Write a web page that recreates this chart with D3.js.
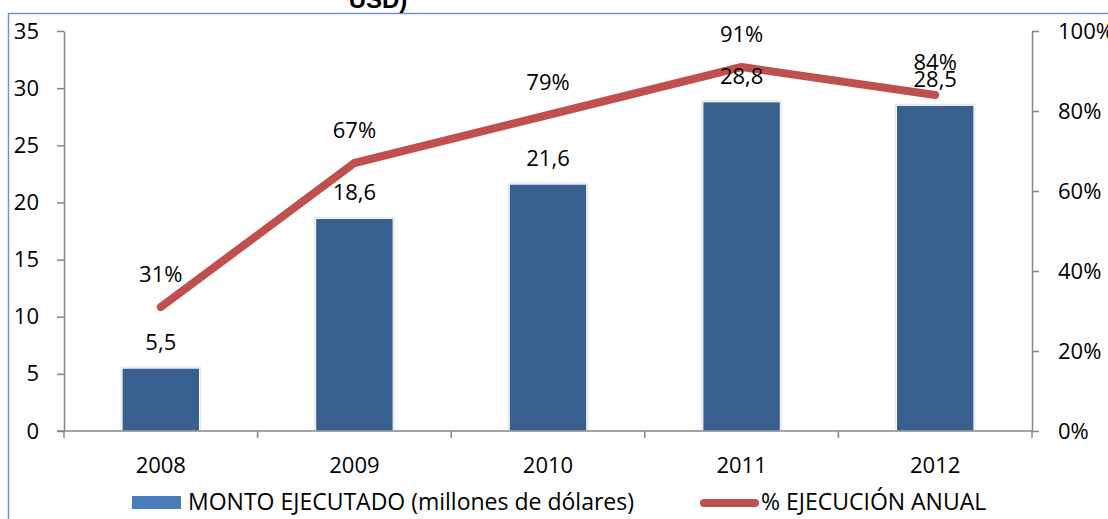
<!DOCTYPE html>
<html>
<head><meta charset="utf-8">
<style>
  body { margin: 0; background: #fff; }
  text { font-family: "Open Sans", Lato, sans-serif; fill: #000; }
  .axis path, .axis line { stroke: #868686; stroke-width: 1.5; }
</style>
</head>
<body>
<script src="https://d3js.org/d3.v7.min.js"></script>
<script>
var years = ["2008", "2009", "2010", "2011", "2012"];
var monto = [5.5, 18.6, 21.6, 28.8, 28.5];
var montoLabels = ["5,5", "18,6", "21,6", "28,8", "28,5"];
var ejecucion = [0.31, 0.67, 0.79, 0.91, 0.84];
var leftTicks = [0, 5, 10, 15, 20, 25, 30, 35];
var rightTicks = [0, 0.2, 0.4, 0.6, 0.8, 1];

var width = 1108, height = 519;
var margin = {left: 64, right: 76, top: 31, bottom: 88};
var fs = "22px";

var svg = d3.select("body").append("svg")
    .attr("width", width)
    .attr("height", height);

// chart area frame (cut off at the right)
svg.append("path")
    .attr("d", "M8.5," + height + "V13.5H" + width)
    .attr("fill", "none")
    .attr("stroke", "#6f94c6")
    .attr("stroke-width", 1.5);

svg.append("text")
    .attr("x", 378).attr("y", 8)
    .attr("text-anchor", "middle")
    .style("font-weight", "bold")
    .style("font-size", "24px")
    .style("font-family", "'Liberation Sans', Arial, sans-serif")
    .text("USD)");

var x = d3.scaleBand()
    .domain(years)
    .range([margin.left, width - margin.right])
    .paddingInner(0.6)
    .paddingOuter(0.3);

var y = d3.scaleLinear()
    .domain([0, 35])
    .range([height - margin.bottom, margin.top]);

var y2 = d3.scaleLinear()
    .domain([0, 1])
    .range([height - margin.bottom, margin.top]);

var band = d3.scaleBand().domain(years).range([margin.left, width - margin.right]);

// bars
svg.append("g").selectAll("rect.shadow")
    .data(monto)
    .enter().append("rect")
    .attr("x", (d, i) => x(years[i]) - 1.5)
    .attr("y", d => y(d) - 1.5)
    .attr("width", x.bandwidth() + 3)
    .attr("height", d => y(0) - y(d) + 1.5)
    .attr("fill", "#e4e4e4");

svg.append("g").selectAll("rect.bar")
    .data(monto)
    .enter().append("rect")
    .attr("x", (d, i) => x(years[i]))
    .attr("y", d => y(d))
    .attr("width", x.bandwidth())
    .attr("height", d => y(0) - y(d))
    .attr("fill", "#37608f")
    .attr("stroke", "#fff")
    .attr("stroke-width", 1);

// axes
var gl = svg.append("g").attr("class", "axis")
    .attr("transform", "translate(" + margin.left + ",0)")
    .call(d3.axisLeft(y).tickValues(leftTicks).tickSize(7).tickSizeOuter(0).tickFormat(d3.format("d")));
gl.selectAll("text").style("font-size", fs).attr("x", -25);

var gr = svg.append("g").attr("class", "axis")
    .attr("transform", "translate(" + (width - margin.right) + ",0)")
    .call(d3.axisRight(y2).tickValues(rightTicks).tickSize(7).tickSizeOuter(0).tickFormat(d3.format(".0%")));
gr.selectAll("text").style("font-size", fs).attr("x", 26);

var gx = svg.append("g").attr("class", "axis")
    .attr("transform", "translate(0," + y(0) + ")");
gx.append("line")
    .attr("x1", margin.left - 7).attr("x2", width - margin.right)
    .attr("stroke", "#868686").attr("stroke-width", 1.5);
gx.selectAll("line.tick")
    .data(years.concat(["end"]))
    .enter().append("line")
    .attr("x1", (d, i) => i < years.length ? band(d) : band(years[years.length - 1]) + band.bandwidth())
    .attr("x2", (d, i) => i < years.length ? band(d) : band(years[years.length - 1]) + band.bandwidth())
    .attr("y1", 0).attr("y2", 7)
    .attr("stroke", "#868686").attr("stroke-width", 1.5);
gx.selectAll("text")
    .data(years)
    .enter().append("text")
    .attr("x", d => band(d) + band.bandwidth() / 2)
    .attr("y", 42)
    .attr("text-anchor", "middle")
    .style("font-size", fs)
    .text(d => d);

// line
var cx = d => band(d) + band.bandwidth() / 2;
var line = d3.line()
    .x((d, i) => cx(years[i]))
    .y(d => y2(d));

svg.append("path")
    .datum(ejecucion)
    .attr("d", line)
    .attr("fill", "none")
    .attr("stroke", "#c0504d")
    .attr("stroke-width", 8)
    .attr("stroke-linecap", "round")
    .attr("stroke-linejoin", "round");

// bar labels
svg.append("g").selectAll("text")
    .data(monto)
    .enter().append("text")
    .attr("x", (d, i) => cx(years[i]))
    .attr("y", d => y(d) - 18)
    .attr("text-anchor", "middle")
    .style("font-size", fs)
    .text((d, i) => montoLabels[i]);

// percent labels
svg.append("g").selectAll("text")
    .data(ejecucion)
    .enter().append("text")
    .attr("x", (d, i) => cx(years[i]))
    .attr("y", d => y2(d) - 25)
    .attr("text-anchor", "middle")
    .style("font-size", fs)
    .text(d => Math.round(d * 100) + "%");

// legend
var lg = svg.append("g");
lg.append("rect")
    .attr("x", 132).attr("y", 496)
    .attr("width", 49).attr("height", 13)
    .attr("fill", "#4a7ebb");
lg.append("text")
    .attr("x", 188).attr("y", 510)
    .style("font-size", "23px")
    .text("MONTO EJECUTADO (millones de dólares)");
lg.append("line")
    .attr("x1", 704).attr("x2", 755)
    .attr("y1", 503).attr("y2", 503)
    .attr("stroke", "#c0504d")
    .attr("stroke-width", 8)
    .attr("stroke-linecap", "round");
lg.append("text")
    .attr("x", 761).attr("y", 510)
    .style("font-size", "23px")
    .text("% EJECUCIÓN ANUAL");
</script>
</body>
</html>
